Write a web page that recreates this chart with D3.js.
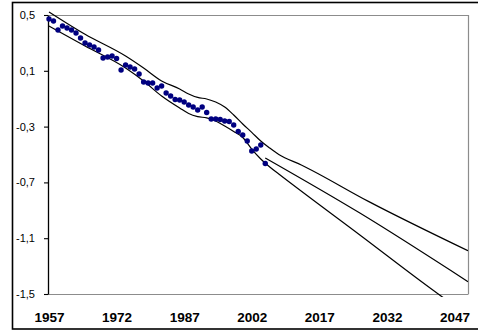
<!DOCTYPE html>
<html>
<head>
<meta charset="utf-8">
<script src="https://cdn.jsdelivr.net/npm/d3@7"></script>
<style>
  html, body { margin: 0; padding: 0; background: #fff; overflow: hidden; }
  text { font-family: "Liberation Sans", Arial, sans-serif; }
</style>
</head>
<body>
<svg id="chart" width="478" height="332"></svg>
<script>
// Observed annual values
const obsYears = [1957,1958,1959,1960,1961,1962,1963,1964,1965,1966,1967,1968,1969,1970,
  1971,1972,1973,1974,1975,1976,1977,1978,1979,1980,1981,1982,1983,1984,1985,1986,
  1987,1988,1989,1990,1991,1992,1993,1994,1995,1996,1997,1998,1999,2000,2001,2002,
  2003,2004,2005];
const obsValues = [0.471,0.457,0.392,0.421,0.407,0.392,0.371,0.335,0.299,0.285,0.271,0.249,
  0.192,0.199,0.206,0.188,0.106,0.142,0.127,0.113,0.077,0.020,0.013,0.013,-0.023,-0.009,
  -0.059,-0.081,-0.106,-0.109,-0.124,-0.145,-0.159,-0.181,-0.159,-0.199,-0.246,-0.246,
  -0.249,-0.260,-0.263,-0.289,-0.335,-0.360,-0.403,-0.475,-0.461,-0.432,-0.565];

// Upper band
const upperYears  = [1957, 1965, 1974, 1978, 1982, 1986, 1988, 1990, 1992, 1994, 1996, 1998, 2000, 2002, 2004, 2006, 2008, 2013, 2028, 2050];
const upperValues = [0.522, 0.362, 0.206, 0.120, 0.027, -0.030, -0.066, -0.091, -0.102, -0.124, -0.160, -0.217, -0.281, -0.341, -0.403, -0.454, -0.500, -0.575, -0.838, -1.190];

// Lower band
const lowerYears  = [1957, 1965, 1974, 1978, 1982, 1986, 1988, 1990, 1992, 1994, 1996, 1998, 2000, 2002, 2004, 2006, 2008, 2026, 2044, 2050];
const lowerValues = [0.421, 0.278, 0.120, 0.027, -0.081, -0.167, -0.206, -0.228, -0.238, -0.260, -0.296, -0.335, -0.378, -0.461, -0.532, -0.590, -0.640, -1.077, -1.514, -1.650];

// Central projection
const midYears  = [2005, 2026, 2050];
const midValues = [-0.525, -0.920, -1.412];

// Axis ticks
const yTicks = [0.5, 0.1, -0.3, -0.7, -1.1, -1.5];
const yTickLabels = ["0,5", "0,1", "-0,3", "-0,7", "-1,1", "-1,5"];
const xTicks = [1957, 1972, 1987, 2002, 2017, 2032, 2047];
const xTickLabels = ["1957", "1972", "1987", "2002", "2017", "2032", "2047"];

const svg = d3.select("#chart");
const plot = { left: 48, right: 468, top: 15, bottom: 294 };

const x = d3.scaleLinear().domain([1957, 2050]).range([49, plot.right]);
const y = d3.scaleLinear().domain([-1.5, 0.5]).range([plot.bottom, plot.top]);

// outer frame
svg.append("rect")
  .attr("x", 12.5).attr("y", 2.5)
  .attr("width", 480).attr("height", 326.5)
  .attr("fill", "#fff").attr("stroke", "#000").attr("stroke-width", 1.6);

// plot area border (top and right)
svg.append("path")
  .attr("d", `M${plot.left},${plot.top + 0.5}H${plot.right + 0.5}V${plot.bottom}`)
  .attr("fill", "none").attr("stroke", "#8c8c8c").attr("stroke-width", 1.2);

// x axis
const xAxis = svg.append("g")
  .attr("transform", `translate(0,${plot.bottom + 0.5})`)
  .call(d3.axisBottom(x).tickValues(xTicks)
    .tickFormat((d, i) => xTickLabels[i]).tickSize(0).tickPadding(18));
xAxis.select(".domain").attr("d", `M${plot.left},0H${plot.right + 0.5}`)
  .attr("stroke", "#8c8c8c").attr("stroke-width", 1.2);
xAxis.selectAll("text")
  .attr("font-family", "Liberation Sans, Arial, sans-serif")
  .attr("font-size", 13.5).attr("font-weight", "bold").attr("fill", "#000");

// y axis
const yAxis = svg.append("g")
  .attr("transform", `translate(${plot.left},0)`)
  .call(d3.axisLeft(y).tickValues(yTicks)
    .tickFormat((d, i) => yTickLabels[i]).tickSizeInner(4).tickSizeOuter(0).tickPadding(9));
yAxis.select(".domain").attr("stroke", "#000").attr("stroke-width", 1.3);
yAxis.selectAll(".tick line").attr("stroke", "#000").attr("stroke-width", 1.1);
yAxis.selectAll("text")
  .attr("font-family", "Liberation Sans, Arial, sans-serif")
  .attr("font-size", 11).attr("fill", "#000");

// clipping for the band lines
svg.append("clipPath").attr("id", "plotClip")
  .append("rect").attr("x", 40).attr("y", 8)
  .attr("width", plot.right - 40).attr("height", 297 - 8);

const line = d3.line()
  .x(d => x(d[0])).y(d => y(d[1]))
  .curve(d3.curveMonotoneX);

const lines = svg.append("g").attr("clip-path", "url(#plotClip)");
[[upperYears, upperValues], [lowerYears, lowerValues], [midYears, midValues]]
  .forEach(([ys, vs]) => {
    lines.append("path")
      .datum(ys.map((yr, i) => [yr, vs[i]]))
      .attr("d", line)
      .attr("fill", "none")
      .attr("stroke", "#000")
      .attr("stroke-width", 1.2);
  });

// observed points
svg.append("g").selectAll("circle")
  .data(obsYears.map((yr, i) => [yr, obsValues[i]]))
  .join("circle")
  .attr("cx", d => x(d[0]))
  .attr("cy", d => y(d[1]))
  .attr("r", 2.7)
  .attr("fill", "#000080");
</script>
</body>
</html>
